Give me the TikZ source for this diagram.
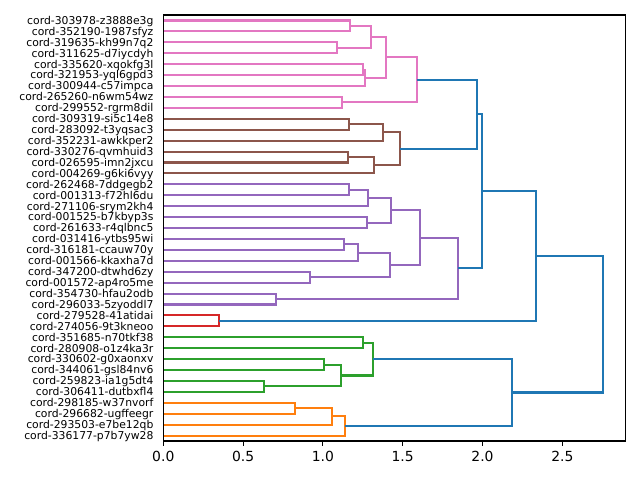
\documentclass[tikz,border=0pt]{standalone}
\usepackage{fontspec}
\setmainfont{DejaVu Sans}
\definecolor{cBlue}{HTML}{1F77B4}
\definecolor{cOrange}{HTML}{FF7F0E}
\definecolor{cGreen}{HTML}{2CA02C}
\definecolor{cRed}{HTML}{D62728}
\definecolor{cPurple}{HTML}{9467BD}
\definecolor{cBrown}{HTML}{8C564B}
\definecolor{cPink}{HTML}{E377C2}
\tikzset{
  lk/.style={line width=2.08pt},
  pk/.style={lk, draw=cPink},
  bn/.style={lk, draw=cBrown},
  pu/.style={lk, draw=cPurple},
  rd/.style={lk, draw=cRed},
  gn/.style={lk, draw=cGreen},
  og/.style={lk, draw=cOrange},
  bl/.style={lk, draw=cBlue},
  leaflabel/.style={anchor=base east, inner sep=0pt, font=\fontsize{10.8}{12}\selectfont},
  ticklabel/.style={anchor=north, inner sep=0pt, font=\fontsize{13.9}{15}\selectfont},
  frame/.style={line width=1.11pt, draw=black},
  tickmark/.style={line width=1.11pt, draw=black}
}
\begin{document}
\begin{tikzpicture}[x=1pt,y=-1pt]
\useasboundingbox[fill=white] (0,0) rectangle (640,480);
\begin{scope}[shift={(163.3,15)}, x=159.6pt, y=-10.923pt]
% leaves and labels
\foreach \i/\t in {0/cord-303978-z3888e3g,1/cord-352190-1987sfyz,2/cord-319635-kh99n7q2,3/cord-311625-d7iycdyh,4/cord-335620-xqokfg3l,5/cord-321953-yql6gpd3,6/cord-300944-c57impca,7/cord-265260-n6wm54wz,8/cord-299552-rgrm8dil,9/cord-309319-si5c14e8,10/cord-283092-t3yqsac3,11/cord-352231-awkkper2,12/cord-330276-qvmhuid3,13/cord-026595-imn2jxcu,14/cord-004269-g6ki6vyy,15/cord-262468-7ddgegb2,16/cord-001313-f72hl6du,17/cord-271106-srym2kh4,18/cord-001525-b7kbyp3s,19/cord-261633-r4qlbnc5,20/cord-031416-ytbs95wi,21/cord-316181-ccauw70y,22/cord-001566-kkaxha7d,23/cord-347200-dtwhd6zy,24/cord-001572-ap4ro5me,25/cord-354730-hfau2odb,26/cord-296033-5zyoddl7,27/cord-279528-41atidai,28/cord-274056-9t3kneoo,29/cord-351685-n70tkf38,30/cord-280908-o1z4ka3r,31/cord-330602-g0xaonxv,32/cord-344061-gsl84nv6,33/cord-259823-ia1g5dt4,34/cord-306411-dutbxfl4,35/cord-298185-w37nvorf,36/cord-296682-ugffeegr,37/cord-293503-e7be12qb,38/cord-336177-p7b7yw28}{
  \coordinate (L\i) at (0,\i+0.5);
  \node[leaflabel, xshift=-9.7pt, yshift=-3.9pt] (n\i) at (0,\i+0.5) {\t};
}
% cluster coordinates
\coordinate (p01) at (1.170,1.0);
\coordinate (p23) at (1.086,3.0);
\coordinate (p03) at (1.300,2.0);
\coordinate (p45) at (1.250,5.0);
\coordinate (p46) at (1.264,5.75);
\coordinate (p06) at (1.395,3.875);
\coordinate (p78) at (1.118,8.0);
\coordinate (P)   at (1.588,5.9375);
\coordinate (b910) at (1.164,10.0);
\coordinate (b911) at (1.375,10.75);
\coordinate (b1213) at (1.155,13.0);
\coordinate (b1214) at (1.318,13.75);
\coordinate (B)    at (1.481,12.25);
\coordinate (PB)   at (1.966,9.09375);
\coordinate (u1516) at (1.164,16.0);
\coordinate (u1517) at (1.283,16.75);
\coordinate (u1819) at (1.276,19.0);
\coordinate (u1519) at (1.427,17.875);
\coordinate (u2021) at (1.132,21.0);
\coordinate (u2022) at (1.220,21.75);
\coordinate (u2324) at (0.922,24.0);
\coordinate (u2024) at (1.418,22.875);
\coordinate (u1524) at (1.608,20.375);
\coordinate (u2526) at (0.704,26.0);
\coordinate (U)     at (1.845,23.1875);
\coordinate (PBU)   at (1.997,16.140625);
\coordinate (R)     at (0.349,28.0);
\coordinate (PBUR)  at (2.336,22.0703);
\coordinate (g2930) at (1.251,30.0);
\coordinate (g3132) at (1.007,32.0);
\coordinate (g3334) at (0.633,34.0);
\coordinate (g3134) at (1.111,33.0);
\coordinate (G)     at (1.312,31.5);
\coordinate (o3536) at (0.825,36.0);
\coordinate (o3537) at (1.055,36.75);
\coordinate (O)     at (1.136,37.625);
\coordinate (GO)    at (2.185,34.5625);
\coordinate (ROOT)  at (2.755,28.316);
% pink
\draw[pk] (L0) -| (p01) |- (L1);
\draw[pk] (L2) -| (p23) |- (L3);
\draw[pk] (p01) -| (p03) |- (p23);
\draw[pk] (L4) -| (p45) |- (L5);
\draw[pk] (p45) -| (p46) |- (L6);
\draw[pk] (p03) -| (p06) |- (p46);
\draw[pk] (L7) -| (p78) |- (L8);
\draw[pk] (p06) -| (P) |- (p78);
% brown
\draw[bn] (L9) -| (b910) |- (L10);
\draw[bn] (b910) -| (b911) |- (L11);
\draw[bn] (L12) -| (b1213) |- (L13);
\draw[bn] (b1213) -| (b1214) |- (L14);
\draw[bn] (b911) -| (B) |- (b1214);
% purple
\draw[pu] (L15) -| (u1516) |- (L16);
\draw[pu] (u1516) -| (u1517) |- (L17);
\draw[pu] (L18) -| (u1819) |- (L19);
\draw[pu] (u1517) -| (u1519) |- (u1819);
\draw[pu] (L20) -| (u2021) |- (L21);
\draw[pu] (u2021) -| (u2022) |- (L22);
\draw[pu] (L23) -| (u2324) |- (L24);
\draw[pu] (u2022) -| (u2024) |- (u2324);
\draw[pu] (u1519) -| (u1524) |- (u2024);
\draw[pu] (L25) -| (u2526) |- (L26);
\draw[pu] (u1524) -| (U) |- (u2526);
% red
\draw[rd] (L27) -| (R) |- (L28);
% green
\draw[gn] (L29) -| (g2930) |- (L30);
\draw[gn] (L31) -| (g3132) |- (L32);
\draw[gn] (L33) -| (g3334) |- (L34);
\draw[gn] (g3132) -| (g3134) |- (g3334);
\draw[gn] (g2930) -| (G) |- (g3134);
% orange
\draw[og] (L35) -| (o3536) |- (L36);
\draw[og] (o3536) -| (o3537) |- (L37);
\draw[og] (o3537) -| (O) |- (L38);
% blue
\draw[bl] (P) -| (PB) |- (B);
\draw[bl] (PB) -| (PBU) |- (U);
\draw[bl] (PBU) -| (PBUR) |- (R);
\draw[bl] (G) -| (GO) |- (O);
\draw[bl] (PBUR) -| (ROOT) |- (GO);
% frame
\coordinate (fa) at (0,0);
\coordinate (fb) at (2.895,39);
\draw[frame] (fa) rectangle (fb);
% x ticks
\foreach \v/\k in {0.0/a,0.5/b,1.0/c,1.5/d,2.0/e,2.5/f}{
  \coordinate (t\k) at (\v,39);
  \draw[tickmark] (t\k) -- ++(0pt,-4.86pt);
  \node[ticklabel, yshift=-10.2pt] (x\k) at (t\k) {\v};
}
\end{scope}
\end{tikzpicture}
\end{document}
